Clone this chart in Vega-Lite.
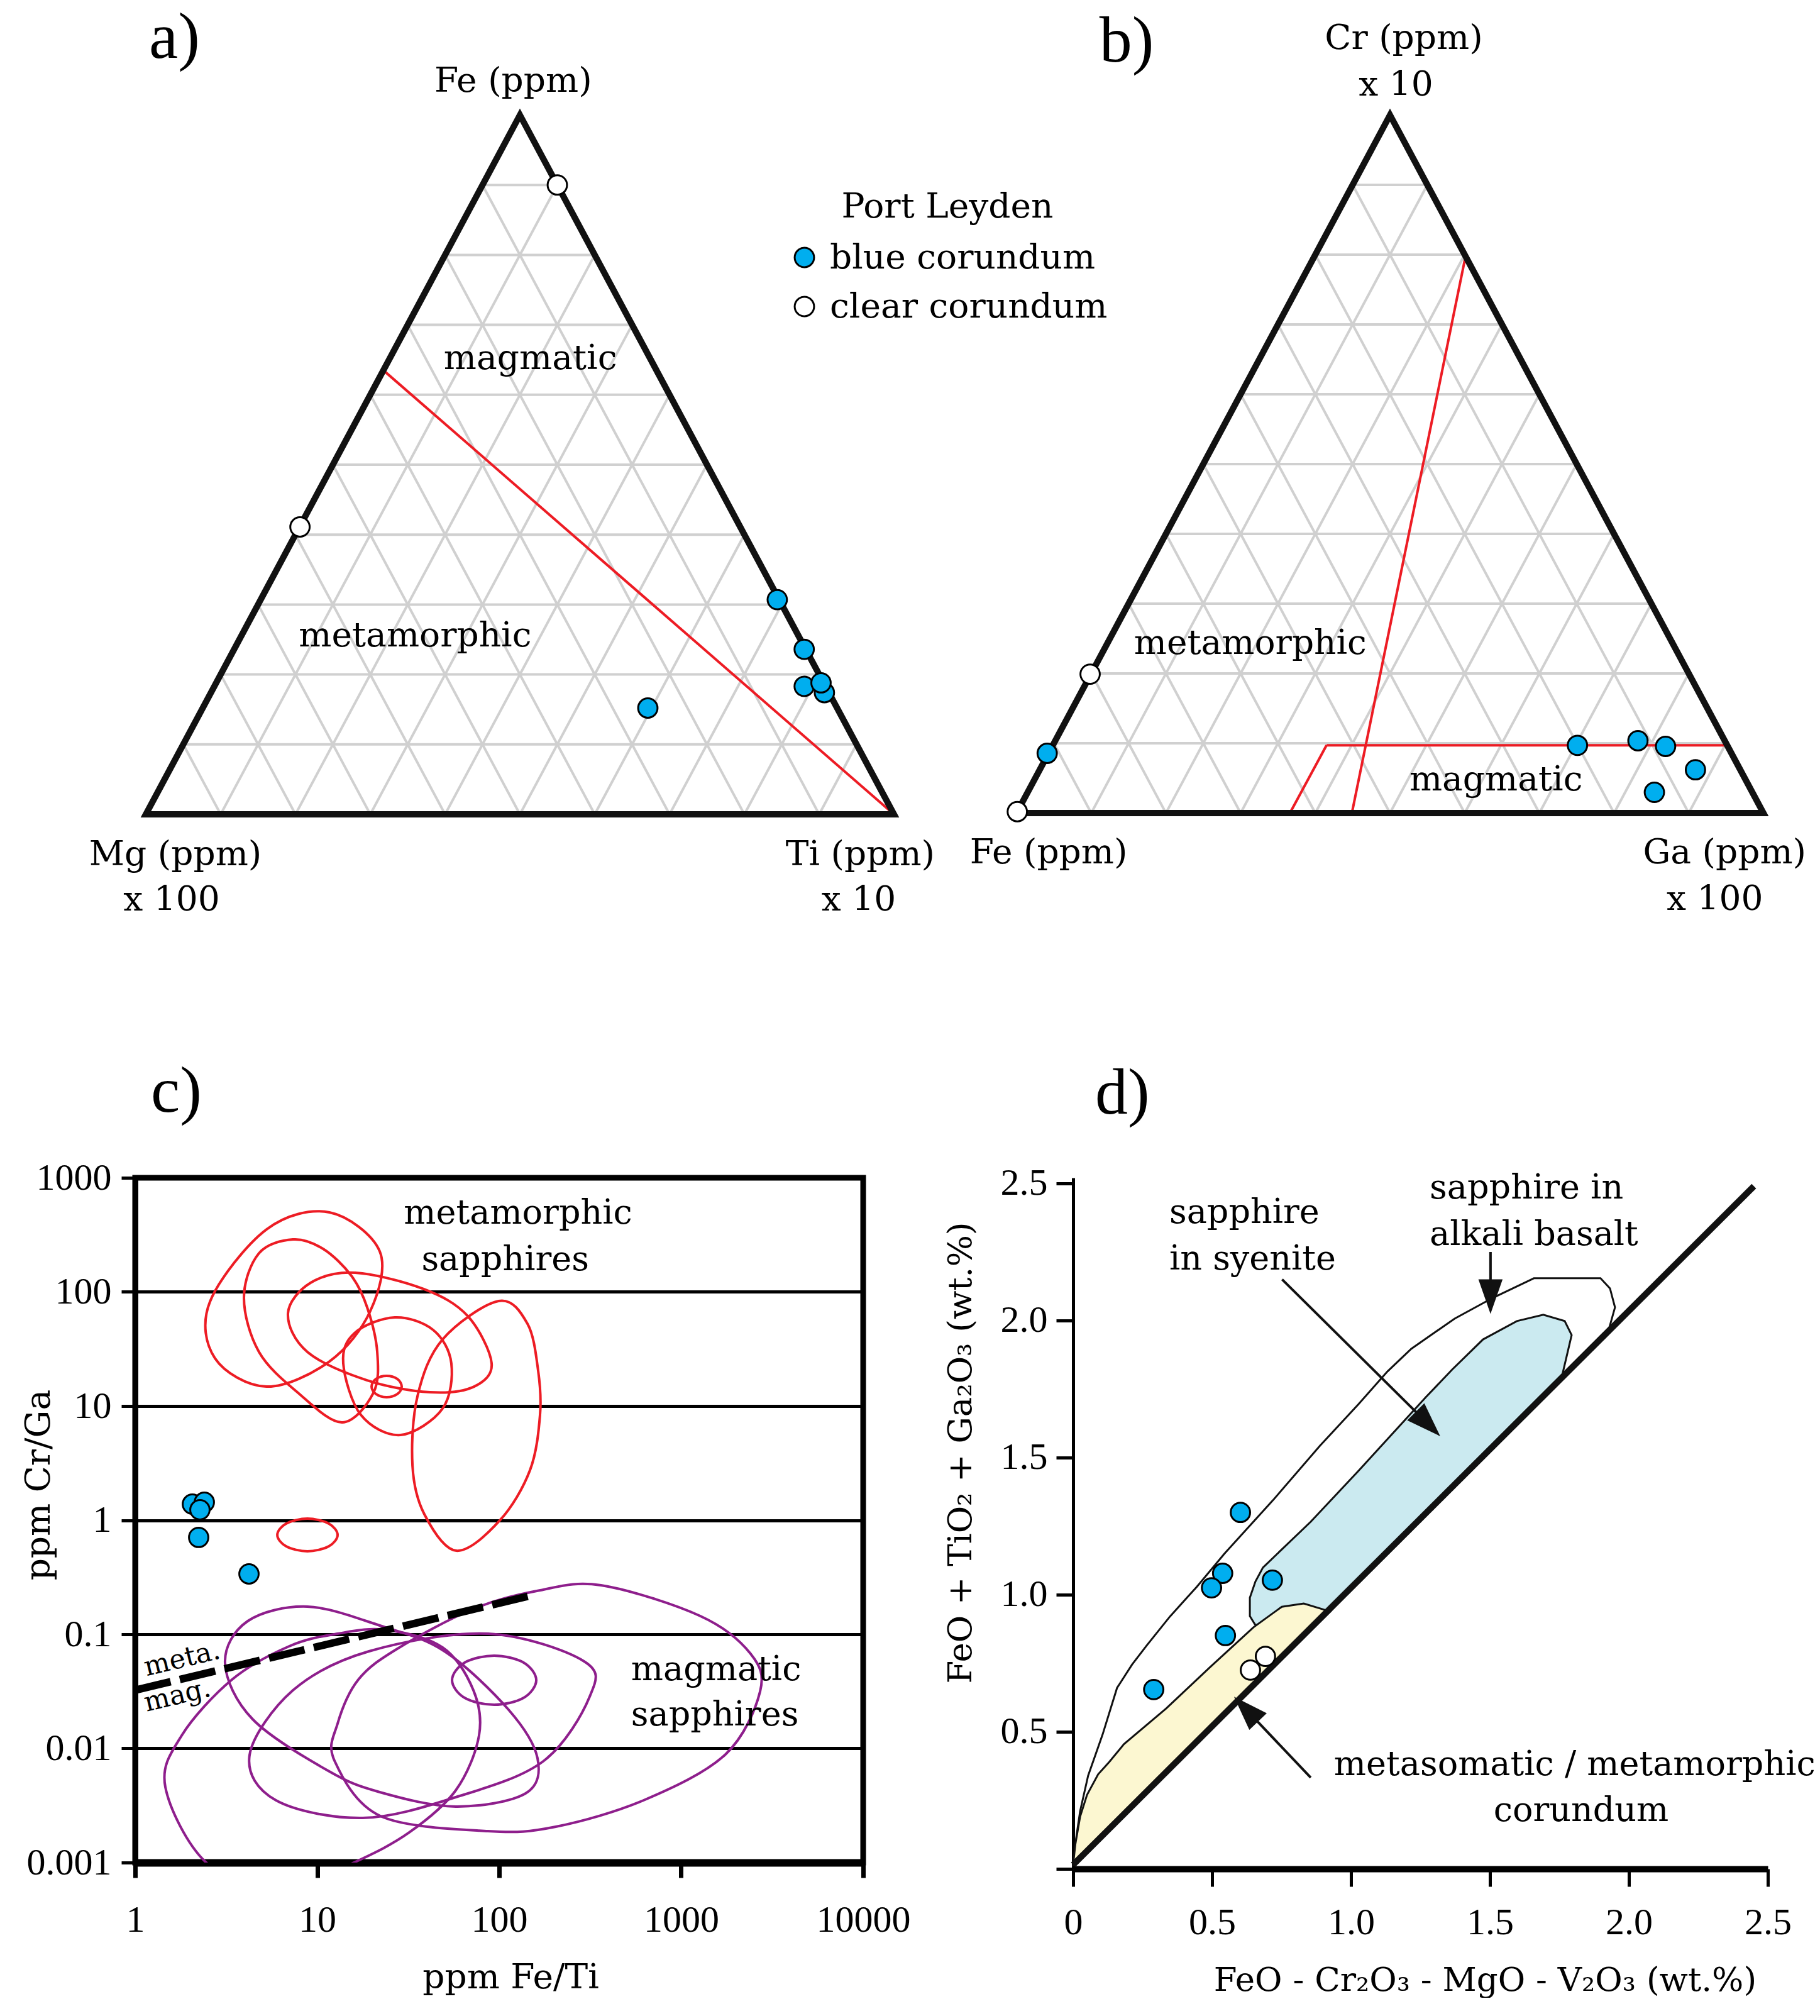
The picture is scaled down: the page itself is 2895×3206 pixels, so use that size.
{
"$schema":"https://vega.github.io/schema/vega-lite/v6.json",
"background":"white",
"padding":{"left":29,"top":0,"right":0,"bottom":0},
"config":{
 "view":{"stroke":null},
 "text":{"font":"DejaVu Serif","fontSize":55,"color":"black"},
 "axis":{"labelFont":"Liberation Serif","labelFontSize":60,"labelColor":"black","titleFont":"DejaVu Serif","titleFontSize":55,"titleFontWeight":"normal","titleColor":"black","domainColor":"black","tickColor":"black","labelFlush":false,"labelOverlap":false,"grid":false}
},
"datasets":{
 "tgrid":[
  {"x":0.05,"y":0.1,"x2":0.95,"y2":0.1},{"x":0.1,"y":0.2,"x2":0.9,"y2":0.2},{"x":0.15,"y":0.3,"x2":0.85,"y2":0.3},
  {"x":0.2,"y":0.4,"x2":0.8,"y2":0.4},{"x":0.25,"y":0.5,"x2":0.75,"y2":0.5},{"x":0.3,"y":0.6,"x2":0.7,"y2":0.6},
  {"x":0.35,"y":0.7,"x2":0.65,"y2":0.7},{"x":0.4,"y":0.8,"x2":0.6,"y2":0.8},{"x":0.45,"y":0.9,"x2":0.55,"y2":0.9},
  {"x":0.1,"y":0,"x2":0.55,"y2":0.9},{"x":0.2,"y":0,"x2":0.6,"y2":0.8},{"x":0.3,"y":0,"x2":0.65,"y2":0.7},
  {"x":0.4,"y":0,"x2":0.7,"y2":0.6},{"x":0.5,"y":0,"x2":0.75,"y2":0.5},{"x":0.6,"y":0,"x2":0.8,"y2":0.4},
  {"x":0.7,"y":0,"x2":0.85,"y2":0.3},{"x":0.8,"y":0,"x2":0.9,"y2":0.2},{"x":0.9,"y":0,"x2":0.95,"y2":0.1},
  {"x":0.1,"y":0,"x2":0.05,"y2":0.1},{"x":0.2,"y":0,"x2":0.1,"y2":0.2},{"x":0.3,"y":0,"x2":0.15,"y2":0.3},
  {"x":0.4,"y":0,"x2":0.2,"y2":0.4},{"x":0.5,"y":0,"x2":0.25,"y2":0.5},{"x":0.6,"y":0,"x2":0.3,"y2":0.6},
  {"x":0.7,"y":0,"x2":0.35,"y2":0.7},{"x":0.8,"y":0,"x2":0.4,"y2":0.8},{"x":0.9,"y":0,"x2":0.45,"y2":0.9}
 ],
 "tri":[{"i":0,"x":0,"y":0},{"i":1,"x":1,"y":0},{"i":2,"x":0.5,"y":1}],
 "redEll":[
  {"id":"A","i":0,"x":11.68,"y":497.7},{"id":"A","i":1,"x":22.07,"y":226.7},{"id":"A","i":2,"x":19.58,"y":67.9},{"id":"A","i":3,"x":11.68,"y":24.6},{"id":"A","i":4,"x":5.27,"y":14.8},{"id":"A","i":5,"x":2.746,"y":26.2},{"id":"A","i":6,"x":2.577,"y":82.2},{"id":"A","i":7,"x":5.27,"y":353.2},
  {"id":"B","i":0,"x":7.36,"y":288.4},{"id":"B","i":1,"x":10.78,"y":238.5},{"id":"B","i":2,"x":15.43,"y":138.2},{"id":"B","i":3,"x":18.82,"y":73.3},{"id":"B","i":4,"x":21.38,"y":29.8},{"id":"B","i":5,"x":20.38,"y":13.06},{"id":"B","i":6,"x":13.69,"y":7.19},{"id":"B","i":7,"x":7.85,"y":13.06},{"id":"B","i":8,"x":4.79,"y":29.8},{"id":"B","i":9,"x":3.96,"y":88.7},{"id":"B","i":10,"x":4.79,"y":218.3},
  {"id":"C","i":0,"x":16.18,"y":147.2},{"id":"C","i":1,"x":38.5,"y":105.9},{"id":"C","i":2,"x":67.2,"y":61.4},{"id":"C","i":3,"x":90.9,"y":23.7},{"id":"C","i":4,"x":72.8,"y":14.8},{"id":"C","i":5,"x":41.7,"y":13.2},{"id":"C","i":6,"x":18.82,"y":16.8},{"id":"C","i":7,"x":8.84,"y":29.8},{"id":"C","i":8,"x":6.91,"y":64.6},{"id":"C","i":9,"x":9.2,"y":120.2},
  {"id":"D","i":0,"x":26.7,"y":59.8},{"id":"D","i":1,"x":43.4,"y":46.4},{"id":"D","i":2,"x":54.6,"y":23.7},{"id":"D","i":3,"x":48.9,"y":9.51},{"id":"D","i":4,"x":28.7,"y":5.58},{"id":"D","i":5,"x":17.38,"y":8.37},{"id":"D","i":6,"x":13.91,"y":23.7},{"id":"D","i":7,"x":16.05,"y":43.6},
  {"id":"E","i":0,"x":24.08,"y":18.39},{"id":"E","i":1,"x":27.57,"y":17.26},{"id":"E","i":2,"x":29.15,"y":14.82},{"id":"E","i":3,"x":27.57,"y":12.73},{"id":"E","i":4,"x":24.08,"y":11.94},{"id":"E","i":5,"x":21.04,"y":12.73},{"id":"E","i":6,"x":19.9,"y":14.82},{"id":"E","i":7,"x":21.04,"y":17.26},
  {"id":"F","i":0,"x":99.2,"y":83.2},{"id":"F","i":1,"x":143,"y":52.7},{"id":"F","i":2,"x":163.8,"y":20.35},{"id":"F","i":3,"x":167.7,"y":8.37},{"id":"F","i":4,"x":147.7,"y":2.74},{"id":"F","i":5,"x":100.8,"y":0.994},{"id":"F","i":6,"x":58.2,"y":0.54},{"id":"F","i":7,"x":38.8,"y":1.128},{"id":"F","i":8,"x":33.4,"y":3.0},{"id":"F","i":9,"x":35.6,"y":12.25},{"id":"F","i":10,"x":48.9,"y":38.4},
  {"id":"G","i":0,"x":8.84,"y":1.032},{"id":"G","i":1,"x":11.59,"y":0.933},{"id":"G","i":2,"x":12.95,"y":0.742},{"id":"G","i":3,"x":11.59,"y":0.591},{"id":"G","i":4,"x":8.84,"y":0.534},{"id":"G","i":5,"x":6.75,"y":0.591},{"id":"G","i":6,"x":6.04,"y":0.742},{"id":"G","i":7,"x":6.75,"y":0.933}
 ],
 "purpleEll":[
  {"id":"P1","i":0,"x":362.7,"y":0.2691},{"id":"P1","i":1,"x":1275,"y":0.1445},{"id":"P1","i":2,"x":2408,"y":0.0675},{"id":"P1","i":3,"x":2714,"y":0.0315},{"id":"P1","i":4,"x":1752,"y":0.00887},{"id":"P1","i":5,"x":633,"y":0.003556},{"id":"P1","i":6,"x":204.6,"y":0.002061},{"id":"P1","i":7,"x":86.7,"y":0.001886},{"id":"P1","i":8,"x":22.25,"y":0.002557},{"id":"P1","i":9,"x":12.45,"y":0.00781},{"id":"P1","i":10,"x":12.95,"y":0.01651},{"id":"P1","i":11,"x":16.84,"y":0.0401},{"id":"P1","i":12,"x":27.57,"y":0.0747},{"id":"P1","i":13,"x":71.6,"y":0.1661},{"id":"P1","i":14,"x":161.2,"y":0.24},
  {"id":"P2","i":0,"x":6.18,"y":0.000544},{"id":"P2","i":1,"x":2.457,"y":0.001},{"id":"P2","i":2,"x":1.465,"y":0.004584},{"id":"P2","i":3,"x":1.801,"y":0.01297},{"id":"P2","i":4,"x":3.404,"y":0.0401},{"id":"P2","i":5,"x":7.02,"y":0.0786},{"id":"P2","i":6,"x":12.95,"y":0.1013},{"id":"P2","i":7,"x":23.89,"y":0.1093},{"id":"P2","i":8,"x":48.9,"y":0.0766},{"id":"P2","i":9,"x":72.2,"y":0.0323},{"id":"P2","i":10,"x":77.5,"y":0.01297},{"id":"P2","i":11,"x":57.8,"y":0.0043},{"id":"P2","i":12,"x":32.1,"y":0.001839},{"id":"P2","i":13,"x":15.92,"y":0.001},
  {"id":"P3","i":0,"x":8.84,"y":0.1748},{"id":"P3","i":1,"x":22.07,"y":0.1194},{"id":"P3","i":2,"x":50.06,"y":0.071},{"id":"P3","i":3,"x":112.7,"y":0.02182},{"id":"P3","i":4,"x":162.4,"y":0.00822},{"id":"P3","i":5,"x":139.7,"y":0.004037},{"id":"P3","i":6,"x":57.8,"y":0.003094},{"id":"P3","i":7,"x":22.07,"y":0.004141},{"id":"P3","i":8,"x":11.49,"y":0.00637},{"id":"P3","i":9,"x":4.42,"y":0.01804},{"id":"P3","i":10,"x":3.119,"y":0.0558},{"id":"P3","i":11,"x":4.153,"y":0.1305},
  {"id":"P4","i":0,"x":4.253,"y":0.00875},{"id":"P4","i":1,"x":7.36,"y":0.0323},{"id":"P4","i":2,"x":19.27,"y":0.071},{"id":"P4","i":3,"x":86.7,"y":0.1013},{"id":"P4","i":4,"x":292.7,"y":0.058},{"id":"P4","i":5,"x":314.4,"y":0.02848},{"id":"P4","i":6,"x":174.5,"y":0.00771},{"id":"P4","i":7,"x":57.8,"y":0.00374},{"id":"P4","i":8,"x":17.8,"y":0.00246},{"id":"P4","i":9,"x":5.94,"y":0.00351},
  {"id":"P5","i":0,"x":93.85,"y":0.065},{"id":"P5","i":1,"x":136.3,"y":0.0565},{"id":"P5","i":2,"x":159.9,"y":0.0396},{"id":"P5","i":3,"x":136.3,"y":0.02777},{"id":"P5","i":4,"x":93.85,"y":0.02414},{"id":"P5","i":5,"x":64.6,"y":0.02777},{"id":"P5","i":6,"x":55.1,"y":0.0396},{"id":"P5","i":7,"x":64.6,"y":0.0565}
 ]
},
"bounds":"flush",
"columns":2,
"spacing":{"row":373,"column":223},
"resolve":{"scale":{"fill":"independent"},"legend":{"fill":"independent"}},
"concat":[
  {"width":1269,"height":1500,
   "encoding":{
    "x":{"field":"x","type":"quantitative","scale":{"domain":[-0.01429,1.0521],"nice":false,"zero":false},"axis":null},
    "y":{"field":"y","type":"quantitative","scale":{"domain":[-0.18435,1.16457],"nice":false,"zero":false},"axis":null}
   },
   "layer":[
    {"data":{"name":"tgrid"},"mark":{"type":"rule","stroke":"#d0d0d0","strokeWidth":4},"encoding":{"x2":{"field":"x2"},"y2":{"field":"y2"}}},
    {"data":{"values":[{"x":0.3175,"y":0.635,"x2":1,"y2":0}]},"mark":{"type":"rule","stroke":"#ED1C24","strokeWidth":4},"encoding":{"x2":{"field":"x2"},"y2":{"field":"y2"}}},
    {"data":{"name":"tri"},"mark":{"type":"line","interpolate":"linear-closed","stroke":"#111111","strokeWidth":10,"strokeJoin":"miter"},"encoding":{"order":{"field":"i","type":"quantitative"}}},
    {"data":{"values":[
      {"x":0.55,"y":0.9,"kind":"clear corundum"},{"x":0.206,"y":0.411,"kind":"clear corundum"},
      {"x":0.844,"y":0.307,"kind":"blue corundum"},{"x":0.88,"y":0.236,"kind":"blue corundum"},{"x":0.88,"y":0.183,"kind":"blue corundum"},
      {"x":0.907,"y":0.174,"kind":"blue corundum"},{"x":0.9025,"y":0.188,"kind":"blue corundum"},{"x":0.671,"y":0.152,"kind":"blue corundum"}]},
     "mark":{"type":"point","shape":"circle","filled":true,"size":950,"stroke":"black","strokeWidth":3,"opacity":1},
     "encoding":{"fill":{"field":"kind","type":"nominal","scale":{"domain":["blue corundum","clear corundum"],"range":["#00AEEF","#FFFFFF"]},
       "legend":{"orient":"none","legendX":1037,"legendY":303,"title":"Port Leyden","titleFont":"DejaVu Serif","titleFontSize":55,"titleFontWeight":"normal","titleColor":"black","titleAnchor":"middle","titlePadding":24,"titleLimit":0,"labelFont":"DejaVu Serif","labelFontSize":55,"labelColor":"black","labelLimit":0,"labelOffset":13,"symbolType":"circle","symbolSize":950,"symbolStrokeColor":"black","symbolStrokeWidth":3,"symbolOpacity":1,"rowPadding":22,"padding":0}}}},
    {"data":{"values":[
      {"text":"Fe (ppm)","x":0.491,"y":1.0333},{"text":"magmatic","x":0.514,"y":0.6367},{"text":"metamorphic","x":0.36,"y":0.24},
      {"text":"Mg (ppm)","x":0.0395,"y":-0.0728},{"text":"x 100","x":0.0345,"y":-0.1376},
      {"text":"Ti (ppm)","x":0.955,"y":-0.0728},{"text":"x 10","x":0.953,"y":-0.1376}]},
     "mark":{"type":"text","align":"center","baseline":"alphabetic"},"encoding":{"text":{"field":"text"}}},
    {"data":{"values":[{"text":"a)","x":0.0042,"y":1.0818}]},"mark":{"type":"text","align":"left","baseline":"alphabetic","font":"Liberation Serif","fontSize":104},"encoding":{"text":{"field":"text"}}}
   ]
  },
  {"width":1192,"height":1500,
   "encoding":{
    "x":{"field":"x","type":"quantitative","scale":{"domain":[0.07576,1.07912],"nice":false,"zero":false},"axis":null},
    "y":{"field":"y","type":"quantitative","scale":{"domain":[-0.18649,1.16486],"nice":false,"zero":false},"axis":null}
   },
   "layer":[
    {"data":{"name":"tgrid"},"mark":{"type":"rule","stroke":"#d0d0d0","strokeWidth":4},"encoding":{"x2":{"field":"x2"},"y2":{"field":"y2"}}},
    {"data":{"values":[{"x":0.449,"y":0,"x2":0.601,"y2":0.797},{"x":0.366,"y":0,"x2":0.415,"y2":0.097},{"x":0.415,"y":0.097,"x2":0.951,"y2":0.097}]},"mark":{"type":"rule","stroke":"#ED1C24","strokeWidth":4},"encoding":{"x2":{"field":"x2"},"y2":{"field":"y2"}}},
    {"data":{"name":"tri"},"mark":{"type":"line","interpolate":"linear-closed","stroke":"#111111","strokeWidth":10,"strokeJoin":"miter"},"encoding":{"order":{"field":"i","type":"quantitative"}}},
    {"data":{"values":[
      {"x":0.0985,"y":0.199,"kind":"clear corundum"},{"x":0.001,"y":0.002,"kind":"clear corundum"},
      {"x":0.041,"y":0.0856,"kind":"blue corundum"},{"x":0.751,"y":0.097,"kind":"blue corundum"},{"x":0.832,"y":0.1036,"kind":"blue corundum"},
      {"x":0.869,"y":0.0955,"kind":"blue corundum"},{"x":0.909,"y":0.062,"kind":"blue corundum"},{"x":0.854,"y":0.0297,"kind":"blue corundum"}]},
     "mark":{"type":"point","shape":"circle","filled":true,"size":950,"stroke":"black","strokeWidth":3,"opacity":1},
     "encoding":{"fill":{"field":"kind","type":"nominal","scale":{"domain":["blue corundum","clear corundum"],"range":["#00AEEF","#FFFFFF"]},"legend":null}}},
    {"data":{"values":[
      {"text":"Cr (ppm)","x":0.5185,"y":1.0946},{"text":"x 10","x":0.508,"y":1.028},{"text":"metamorphic","x":0.313,"y":0.228},
      {"text":"magmatic","x":0.642,"y":0.0324},{"text":"Fe (ppm)","x":0.043,"y":-0.072},{"text":"Ga (ppm)","x":0.948,"y":-0.072},{"text":"x 100","x":0.935,"y":-0.1387}]},
     "mark":{"type":"text","align":"center","baseline":"alphabetic"},"encoding":{"text":{"field":"text"}}},
    {"data":{"values":[{"text":"b)","x":0.111,"y":1.0766}]},"mark":{"type":"text","align":"left","baseline":"alphabetic","font":"Liberation Serif","fontSize":104},"encoding":{"text":{"field":"text"}}}
   ]
  },
  {"width":1158,"height":1089,
   "view":{"stroke":"black","strokeWidth":9},
   "encoding":{
    "x":{"field":"x","type":"quantitative","scale":{"type":"log","domain":[1,10000],"nice":false},
     "axis":{"values":[1,10,100,1000,10000],"format":"~f","title":"ppm Fe/Ti","domainWidth":12,"tickSize":24,"tickWidth":7,"labelPadding":38,"titleX":597,"titleY":199,"titleBaseline":"alphabetic"}},
    "y":{"field":"y","type":"quantitative","scale":{"type":"log","domain":[0.001,1000],"nice":false},
     "axis":{"values":[0.001,0.01,0.1,1,10,100,1000],"format":"~f","title":"ppm Cr/Ga","grid":true,"gridColor":"black","gridWidth":5,"gridOpacity":1,"domainWidth":9,"tickSize":22,"tickWidth":5,"labelPadding":16,"titleX":-154,"titleY":488,"titleBaseline":"middle"}}
   },
   "layer":[
    {"data":{"name":"redEll"},"mark":{"type":"line","interpolate":"cardinal-closed","stroke":"#ED1C24","strokeWidth":4,"clip":true},"encoding":{"detail":{"field":"id"},"order":{"field":"i","type":"quantitative"}}},
    {"data":{"name":"purpleEll"},"mark":{"type":"line","interpolate":"cardinal-closed","stroke":"#8E1E8C","strokeWidth":4,"clip":true},"encoding":{"detail":{"field":"id"},"order":{"field":"i","type":"quantitative"}}},
    {"data":{"values":[{"x":1,"y":0.0324,"x2":156,"y2":0.222}]},"mark":{"type":"rule","stroke":"black","strokeWidth":12,"strokeDash":[58,15],"strokeCap":"butt"},"encoding":{"x2":{"field":"x2"},"y2":{"field":"y2"}}},
    {"data":{"values":[
      {"x":2.062,"y":1.382,"kind":"blue corundum"},{"x":2.399,"y":1.436,"kind":"blue corundum"},{"x":2.269,"y":1.233,"kind":"blue corundum"},
      {"x":2.233,"y":0.706,"kind":"blue corundum"},{"x":4.22,"y":0.338,"kind":"blue corundum"}]},
     "mark":{"type":"point","shape":"circle","filled":true,"size":950,"stroke":"black","strokeWidth":3,"opacity":1},
     "encoding":{"fill":{"field":"kind","type":"nominal","scale":{"domain":["blue corundum","clear corundum"],"range":["#00AEEF","#FFFFFF"]},"legend":null}}},
    {"data":{"values":[
      {"text":"metamorphic","x":127,"y":396},{"text":"sapphires","x":108,"y":155},
      {"text":"magmatic","x":1556,"y":0.0396},{"text":"sapphires","x":1531,"y":0.0159}]},
     "mark":{"type":"text","align":"center","baseline":"alphabetic","fontSize":54},"encoding":{"text":{"field":"text"}}},
    {"data":{"values":[{"text":"meta.","x":1.154,"y":0.043},{"text":"mag.","x":1.154,"y":0.021}]},
     "mark":{"type":"text","align":"left","baseline":"alphabetic","fontSize":43,"angle":346.5},"encoding":{"text":{"field":"text"}}},
    {"data":{"values":[{"text":"c)","x":1.22,"y":3789}]},"mark":{"type":"text","align":"left","baseline":"alphabetic","font":"Liberation Serif","fontSize":104},"encoding":{"text":{"field":"text"}}}
   ]
  },
  {"width":1105,"height":1099,
   "encoding":{
    "x":{"field":"x","type":"quantitative","scale":{"domain":[0,2.5],"nice":false,"zero":false},
     "axis":{"values":[0,0.5,1,1.5,2,2.5],"labelExpr":"datum.value == 0 ? '0' : format(datum.value, '.1f')","title":"FeO - Cr₂O₃ - MgO - V₂O₃ (wt.%)","titleFontSize":53,"domainWidth":10,"tickSize":28,"tickWidth":5,"labelPadding":28,"titleX":655,"titleY":193,"titleBaseline":"alphabetic"}},
    "y":{"field":"y","type":"quantitative","scale":{"domain":[0,2.5206],"nice":false,"zero":false},
     "axis":{"values":[0,0.5,1,1.5,2,2.5],"labelExpr":"datum.value == 0 ? '' : format(datum.value, '.1f')","title":"FeO + TiO₂ + Ga₂O₃ (wt.%)","titleFontSize":53,"domainWidth":5,"tickSize":27,"tickWidth":5,"labelPadding":14,"titleX":-179,"titleY":437,"titleBaseline":"middle"}}
   },
   "layer":[
    {"data":{"values":[
      {"i":0,"x":0,"y":0.015},{"i":1,"x":0.012,"y":0.12},{"i":2,"x":0.025,"y":0.21},{"i":3,"x":0.054,"y":0.34},{"i":4,"x":0.106,"y":0.49},
      {"i":5,"x":0.158,"y":0.66},{"i":6,"x":0.212,"y":0.745},{"i":7,"x":0.265,"y":0.815},{"i":8,"x":0.348,"y":0.92},{"i":9,"x":0.446,"y":1.03},
      {"i":10,"x":0.545,"y":1.15},{"i":11,"x":0.717,"y":1.342},{"i":12,"x":0.889,"y":1.544},{"i":13,"x":1.027,"y":1.695},{"i":14,"x":1.131,"y":1.814},
      {"i":15,"x":1.217,"y":1.897},{"i":16,"x":1.373,"y":2.007},{"i":17,"x":1.511,"y":2.083},{"i":18,"x":1.658,"y":2.154},{"i":19,"x":1.898,"y":2.154},
      {"i":20,"x":1.932,"y":2.117},{"i":21,"x":1.95,"y":2.048},{"i":22,"x":1.928,"y":1.968}]},
     "mark":{"type":"line","interpolate":"linear-closed","fill":"#FFFFFF","stroke":"#111111","strokeWidth":3},"encoding":{"order":{"field":"i","type":"quantitative"}}},
    {"data":{"values":[
      {"i":0,"x":1.76,"y":1.8},{"i":1,"x":1.794,"y":1.947},{"i":2,"x":1.769,"y":1.998},{"i":3,"x":1.692,"y":2.021},{"i":4,"x":1.597,"y":1.998},
      {"i":5,"x":1.475,"y":1.931},{"i":6,"x":1.364,"y":1.821},{"i":7,"x":1.269,"y":1.72},{"i":8,"x":1.027,"y":1.452},{"i":9,"x":0.855,"y":1.266},
      {"i":10,"x":0.683,"y":1.099},{"i":11,"x":0.656,"y":1.048},{"i":12,"x":0.636,"y":0.989},{"i":13,"x":0.636,"y":0.922},{"i":14,"x":0.654,"y":0.892},
      {"i":15,"x":0.75,"y":0.85},{"i":16,"x":0.9,"y":0.92}]},
     "mark":{"type":"line","interpolate":"linear-closed","fill":"#CBEAF0","stroke":"#111111","strokeWidth":3},"encoding":{"order":{"field":"i","type":"quantitative"}}},
    {"data":{"values":[
      {"i":0,"x":0,"y":0.015},{"i":1,"x":0.008,"y":0.09},{"i":2,"x":0.025,"y":0.19},{"i":3,"x":0.05,"y":0.27},{"i":4,"x":0.09,"y":0.345},
      {"i":5,"x":0.13,"y":0.39},{"i":6,"x":0.183,"y":0.455},{"i":7,"x":0.335,"y":0.585},{"i":8,"x":0.493,"y":0.736},{"i":9,"x":0.649,"y":0.881},
      {"i":10,"x":0.751,"y":0.956},{"i":11,"x":0.83,"y":0.968},{"i":12,"x":0.898,"y":0.947},{"i":13,"x":0.925,"y":0.938}]},
     "mark":{"type":"line","interpolate":"linear-closed","fill":"#FCF7D1","stroke":"#111111","strokeWidth":3},"encoding":{"order":{"field":"i","type":"quantitative"}}},
    {"data":{"values":[{"x":0,"y":0.015,"x2":2.45,"y2":2.49}]},"mark":{"type":"rule","stroke":"#111111","strokeWidth":10},"encoding":{"x2":{"field":"x2"},"y2":{"field":"y2"}}},
    {"data":{"values":[{"x":0.752,"y":2.15,"x2":1.3,"y2":1.6},{"x":1.502,"y":2.25,"x2":1.502,"y2":2.05},{"x":0.855,"y":0.333,"x2":0.6,"y2":0.605}]},"mark":{"type":"rule","stroke":"#111111","strokeWidth":4},"encoding":{"x2":{"field":"x2"},"y2":{"field":"y2"}}},
    {"data":{"values":[{"x":1.321,"y":1.578}]},"mark":{"type":"point","shape":"M0,0L0.7,2L-0.7,2Z","filled":true,"fill":"#111111","strokeWidth":0,"size":3025,"angle":135,"opacity":1},"encoding":{}},
    {"data":{"values":[{"x":1.502,"y":2.024}]},"mark":{"type":"point","shape":"M0,0L0.7,2L-0.7,2Z","filled":true,"fill":"#111111","strokeWidth":0,"size":3025,"angle":180,"opacity":1},"encoding":{}},
    {"data":{"values":[{"x":0.579,"y":0.628}]},"mark":{"type":"point","shape":"M0,0L0.7,2L-0.7,2Z","filled":true,"fill":"#111111","strokeWidth":0,"size":3025,"angle":316,"opacity":1},"encoding":{}},
    {"data":{"values":[
      {"x":0.602,"y":1.3,"kind":"blue corundum"},{"x":0.538,"y":1.078,"kind":"blue corundum"},{"x":0.498,"y":1.025,"kind":"blue corundum"},
      {"x":0.717,"y":1.053,"kind":"blue corundum"},{"x":0.548,"y":0.851,"kind":"blue corundum"},{"x":0.29,"y":0.654,"kind":"blue corundum"},
      {"x":0.692,"y":0.775,"kind":"clear corundum"},{"x":0.638,"y":0.725,"kind":"clear corundum"}]},
     "mark":{"type":"point","shape":"circle","filled":true,"size":950,"stroke":"black","strokeWidth":3,"opacity":1},
     "encoding":{"fill":{"field":"kind","type":"nominal","scale":{"domain":["blue corundum","clear corundum"],"range":["#00AEEF","#FFFFFF"]},"legend":null}}},
    {"data":{"values":[
      {"text":"sapphire","x":0.346,"y":2.356},{"text":"in syenite","x":0.346,"y":2.186},
      {"text":"sapphire in","x":1.283,"y":2.445},{"text":"alkali basalt","x":1.283,"y":2.275}]},
     "mark":{"type":"text","align":"left","baseline":"alphabetic","fontSize":54},"encoding":{"text":{"field":"text"}}},
    {"data":{"values":[{"text":"metasomatic / metamorphic","x":1.805,"y":0.342},{"text":"corundum","x":1.828,"y":0.174}]},
     "mark":{"type":"text","align":"center","baseline":"alphabetic","fontSize":54},"encoding":{"text":{"field":"text"}}},
    {"data":{"values":[{"text":"d)","x":0.079,"y":2.755}]},"mark":{"type":"text","align":"left","baseline":"alphabetic","font":"Liberation Serif","fontSize":104},"encoding":{"text":{"field":"text"}}}
   ]
  }
]
}
